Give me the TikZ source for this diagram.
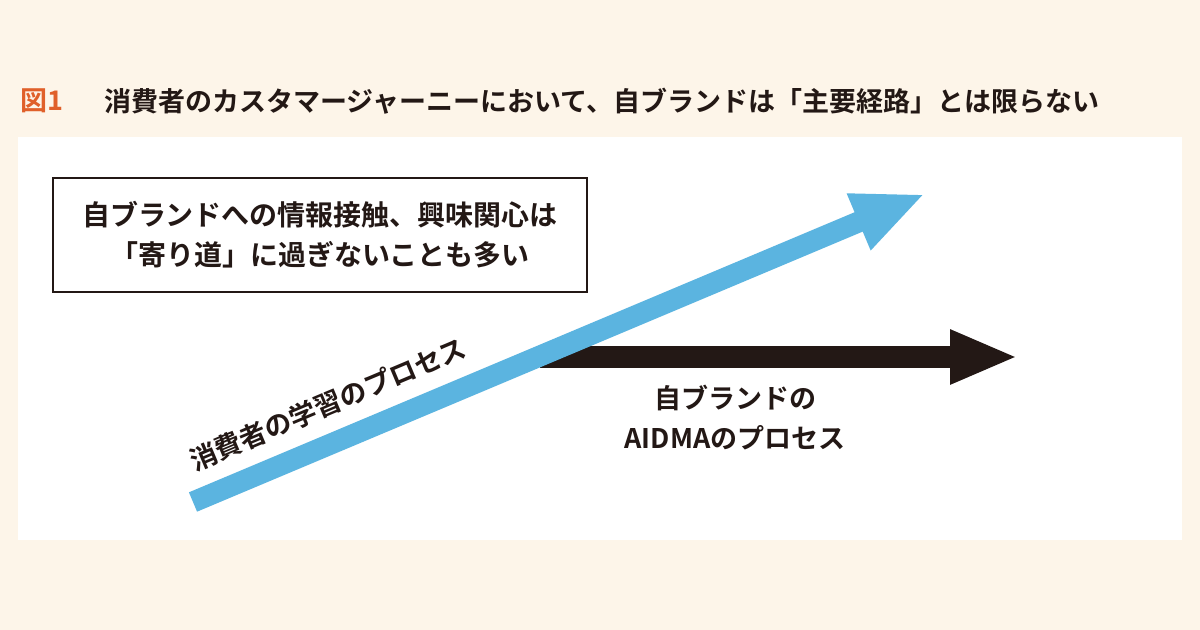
\documentclass[tikz,border=0pt]{standalone}
\usepackage{fontspec}
\newfontfamily\jp{Noto Sans CJK JP Bold}
\usetikzlibrary{arrows.meta}
\definecolor{cream}{HTML}{FDF5E9}
\definecolor{orng}{HTML}{E0602A}
\definecolor{sky}{HTML}{5BB4E0}
\definecolor{ink}{HTML}{231815}
\tikzset{txt/.style={font=\jp\fontsize{13.5pt}{16pt}\selectfont, text=ink, inner sep=0pt}}
\begin{document}
\begin{tikzpicture}[x=0.5pt,y=-0.5pt]
\fill[cream] (0,0) rectangle (1200,630);
\useasboundingbox (0,0) rectangle (1200,630);
\fill[white] (18,137) rectangle (1182,540);
\node[txt,anchor=west,text=orng,font=\jp\fontsize{13.5pt}{15pt}\selectfont] (fig) at (20,101) {図1};
\node[txt,anchor=west,font=\jp\fontsize{13.5pt}{15pt}\selectfont] (title) at (104,101) {消費者のカスタマージャーニーにおいて、自ブランドは「主要経路」とは限らない};
\node[draw=ink,line width=0.6pt,minimum width=267pt,minimum height=57pt] (box) at (320,235) {};
\node[txt,align=center,font=\jp\fontsize{14pt}{16pt}\selectfont] (boxt) at (box.center) {自ブランドへの情報接触、興味関心は\\[4pt]「寄り道」に過ぎないことも多い};
\coordinate (bs) at (540,357);
\coordinate (be) at (1018,357);
\draw[ink,line width=11pt,-{Triangle[length=34pt,width=25pt]}] (bs) -- (be);
\coordinate (as) at (193,502);
\coordinate (ae) at (925,194);
\draw[sky,line width=10.5pt,-{Triangle[length=36pt,width=28pt]}] (as) -- (ae);
\node[txt,rotate=22.8] (lab1) at (328,404) {消費者の学習のプロセス};
\node[txt,align=center] (lab2) at (735,418) {自ブランドの\\[4pt]AIDMAのプロセス};
\end{tikzpicture}
\end{document}
